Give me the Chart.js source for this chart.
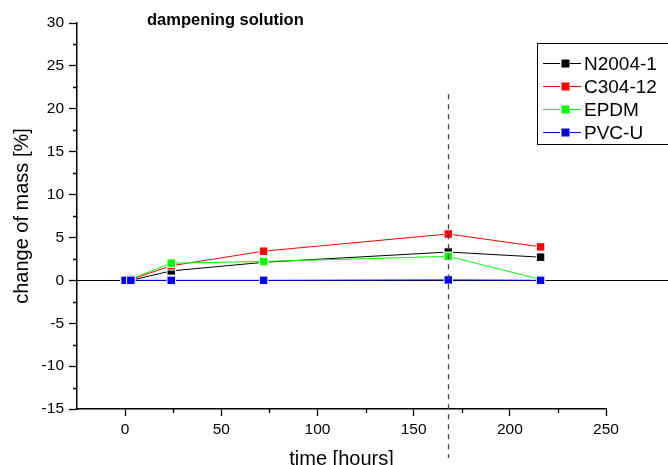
<!DOCTYPE html>
<html>
<head>
<meta charset="utf-8">
<script src="https://cdn.jsdelivr.net/npm/chart.js@4.4.1/dist/chart.umd.min.js"></script>
<style>
  body { margin: 0; background: #fff; }
  #wrap { width: 668px; height: 465px; }
</style>
</head>
<body>
<div id="wrap"><canvas id="massChart" width="668" height="465"></canvas></div>
<script>
// time in hours
const times = [0, 3, 24, 72, 168, 216];

const n2004 = [0, 0, 1.1, 2.1, 3.3, 2.7];
const c304 = [0, 0.1, 1.7, 3.4, 5.4, 3.9];
const epdm = [0, 0.15, 2.0, 2.2, 2.8, 0.1];
const pvcu = [0, 0, 0, 0, 0.05, 0];

const seriesNames = ['N2004-1', 'C304-12', 'EPDM', 'PVC-U'];
const seriesColors = ['#000000', '#ff0000', '#00ff00', '#0000ff'];

const markerTime = 168;
const markerTop = 21.7;

const font = 'Liberation Sans, Arial, sans-serif';

function pts(vals) {
  return times.map((t, i) => ({ x: t, y: vals[i] }));
}

function makeSet(i, vals) {
  return {
    label: seriesNames[i],
    data: pts(vals),
    borderColor: seriesColors[i],
    backgroundColor: seriesColors[i],
    borderWidth: 1,
    pointStyle: 'rect',
    pointRadius: 6,
    pointBorderColor: '#ffffff',
    pointBorderWidth: 1,
    pointBackgroundColor: seriesColors[i],
    order: 4 - i,
  };
}

// zero line across the whole width + dashed marker + title + legend box
const extras = {
  id: 'extras',
  beforeDatasetsDraw(chart) {
    const { ctx, scales: { y }, chartArea } = chart;
    const py = y.getPixelForValue(0);
    ctx.save();
    ctx.strokeStyle = '#000';
    ctx.lineWidth = 1;
    ctx.beginPath();
    ctx.moveTo(chartArea.left, Math.round(py) + 0.5);
    ctx.lineTo(chart.width, Math.round(py) + 0.5);
    ctx.stroke();
    ctx.restore();
  },
  afterDatasetsDraw(chart) {
    const { ctx, scales: { x, y } } = chart;
    const px = Math.round(x.getPixelForValue(markerTime)) + 0.5;
    ctx.save();
    ctx.strokeStyle = '#444';
    ctx.lineWidth = 1.3;
    ctx.setLineDash([5, 5]);
    ctx.beginPath();
    ctx.moveTo(px, y.getPixelForValue(markerTop));
    ctx.lineTo(px, 458);
    ctx.stroke();
    ctx.restore();
  },
  afterDraw(chart) {
    const { ctx, scales: { x, y } } = chart;
    ctx.save();
    // minor ticks
    ctx.strokeStyle = '#000';
    ctx.lineWidth = 1.3;
    ctx.beginPath();
    y.ticks.forEach(t => {
      if (t.value % 5 !== 0) {
        const p = Math.round(y.getPixelForValue(t.value)) + 0.5;
        ctx.moveTo(y.right - 4, p);
        ctx.lineTo(y.right, p);
      }
    });
    x.ticks.forEach(t => {
      if (t.value % 50 !== 0 && t.value > x.min) {
        const p = Math.round(x.getPixelForValue(t.value)) + 0.5;
        ctx.moveTo(p, x.top);
        ctx.lineTo(p, x.top + 4);
      }
    });
    ctx.stroke();

    // title
    ctx.fillStyle = '#000';
    ctx.font = 'bold 16.5px ' + font;
    ctx.textBaseline = 'alphabetic';
    ctx.textAlign = 'left';
    ctx.fillText('dampening solution', 147, 25);

    // legend
    ctx.strokeStyle = '#000';
    ctx.lineWidth = 1;
    ctx.setLineDash([]);
    ctx.strokeRect(537.5, 43.5, 140, 101);
    ctx.font = '19px ' + font;
    ctx.textBaseline = 'middle';
    seriesNames.forEach((name, i) => {
      const ry = Math.round(63 + i * 23) + 0.5;
      ctx.strokeStyle = seriesColors[i];
      ctx.beginPath();
      ctx.moveTo(543, ry);
      ctx.lineTo(581, ry);
      ctx.stroke();
      ctx.fillStyle = '#fff';
      ctx.fillRect(560, ry - 5, 10, 10);
      ctx.fillStyle = seriesColors[i];
      ctx.fillRect(561.5, ry - 4, 8, 8);
      ctx.fillStyle = '#000';
      ctx.fillText(name, 584, ry + 1);
    });
    ctx.restore();
  }
};

new Chart(document.getElementById('massChart'), {
  type: 'line',
  data: {
    datasets: [
      makeSet(0, n2004),
      makeSet(1, c304),
      makeSet(2, epdm),
      makeSet(3, pvcu),
    ]
  },
  options: {
    responsive: false,
    animation: false,
    layout: { padding: { top: 23, right: 62, left: 0, bottom: 0 } },
    plugins: { legend: { display: false }, tooltip: { enabled: false } },
    scales: {
      x: {
        type: 'linear',
        min: -25,
        max: 250,
        afterFit(scale) { scale.height = 56; },
        afterBuildTicks(scale) {
          const t = [];
          for (let v = -25; v <= 250; v += 25) t.push({ value: v });
          scale.ticks = t;
        },
        border: { display: true, color: '#000', width: 1.5 },
        grid: {
          drawOnChartArea: false,
          drawTicks: true,
          tickLength: 7,
          tickWidth: 1.3,
          tickColor: (c) => (c.tick && c.tick.value % 50 === 0) ? '#000' : 'rgba(0,0,0,0)',
        },
        ticks: {
          padding: 4,
          color: '#000',
          font: { family: font, size: 15.5 },
          maxRotation: 0,
          autoSkip: false,
          callback: (v) => (v % 50 === 0 ? String(v) : ''),
        },
        title: {
          display: true,
          text: 'time [hours]',
          color: '#000',
          font: { family: font, size: 20 },
          padding: { top: 0, bottom: -6 },
        },
      },
      y: {
        min: -15,
        max: 30,
        afterFit(scale) { scale.width = 77; },
        afterBuildTicks(scale) {
          const t = [];
          for (let v = -15; v <= 30; v += 2.5) t.push({ value: v });
          scale.ticks = t;
        },
        border: { display: true, color: '#000', width: 1.5 },
        grid: {
          drawOnChartArea: false,
          drawTicks: true,
          tickLength: 8,
          tickWidth: 1.3,
          tickColor: (c) => (c.tick && c.tick.value % 5 === 0) ? '#000' : 'rgba(0,0,0,0)',
        },
        ticks: {
          padding: 5,
          color: '#000',
          font: { family: font, size: 15.5 },
          autoSkip: false,
          callback: (v) => (v % 5 === 0 ? String(v) : ''),
        },
        title: {
          display: true,
          text: 'change of mass [%]',
          color: '#000',
          font: { family: font, size: 20 },
          padding: { top: 10, bottom: 0 },
        },
      }
    }
  },
  plugins: [extras]
});
</script>
</body>
</html>
